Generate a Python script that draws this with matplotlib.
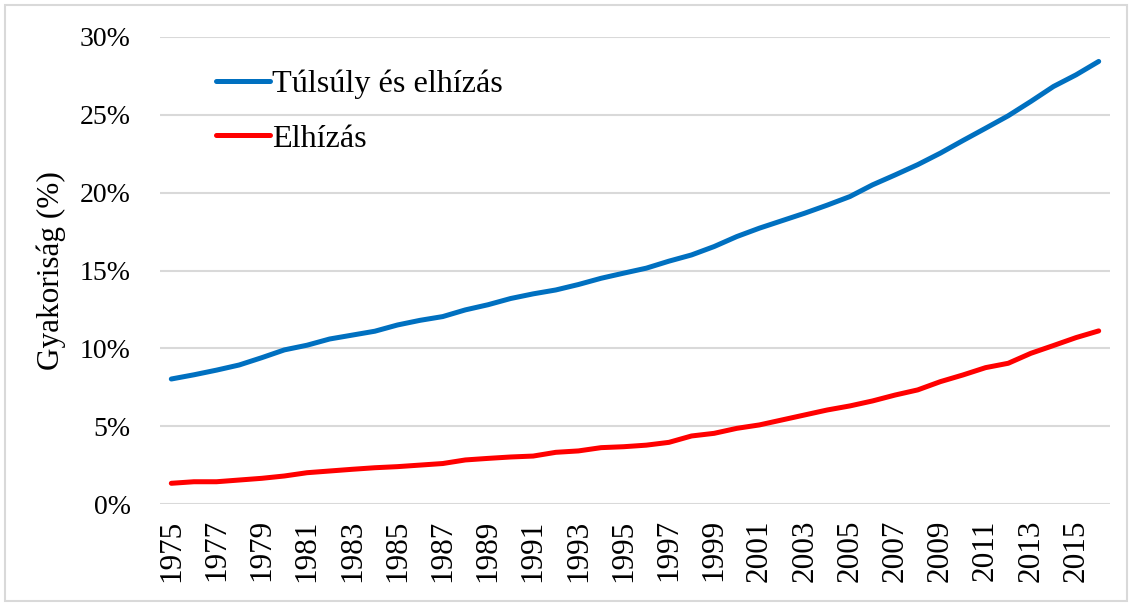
import matplotlib
matplotlib.use("Agg")
import matplotlib.pyplot as plt
from matplotlib.patches import Rectangle
from matplotlib.ticker import FuncFormatter

years = list(range(1975, 2017))
overweight = [8.03, 8.3, 8.6, 8.93, 9.4, 9.9, 10.2, 10.6, 10.85, 11.1, 11.5,
              11.8, 12.04, 12.47, 12.8, 13.2, 13.5, 13.75, 14.1, 14.5, 14.83,
              15.15, 15.6, 16.0, 16.54, 17.18, 17.72, 18.2, 18.68, 19.2, 19.75,
              20.5, 21.14, 21.8, 22.54, 23.35, 24.14, 24.94, 25.86, 26.82, 27.57, 28.43]
obesity = [1.33, 1.43, 1.43, 1.54, 1.65, 1.8, 2.01, 2.12, 2.23, 2.33, 2.4,
           2.5, 2.6, 2.83, 2.93, 3.02, 3.08, 3.32, 3.41, 3.62, 3.68,
           3.78, 3.96, 4.37, 4.54, 4.86, 5.08, 5.4, 5.72, 6.04, 6.3,
           6.62, 7.0, 7.33, 7.86, 8.29, 8.76, 9.04, 9.68, 10.18, 10.69, 11.12]
series_labels = ["Túlsúly és elhízás", "Elhízás"]
series_colors = ["#0070C0", "#FF0000"]
tick_years = list(range(1975, 2016, 2))
y_ticks = [0, 5, 10, 15, 20, 25, 30]
y_label = "Gyakoriság (%)"

plt.rcParams['font.family'] = ['Liberation Serif', 'DejaVu Serif']

W, H = 1132, 606
fig = plt.figure(figsize=(W / 100, H / 100), dpi=100)
ax = fig.add_axes([160 / W, 1 - 504 / H, (1110 - 160) / W, (504 - 37) / H])

for vals, lab, col in zip([overweight, obesity], series_labels, series_colors):
    ax.plot(years, vals, color=col, lw=3.6, label=lab, solid_capstyle='round',
            solid_joinstyle='round', zorder=3)

ax.set_xlim(1974.5, 2016.5)
ax.set_ylim(0, 30)
ax.set_yticks(y_ticks)
ax.yaxis.set_major_formatter(FuncFormatter(lambda v, p: f"{int(v)}%"))
ax.set_xticks(tick_years)
ax.set_xticklabels([str(y) for y in tick_years], rotation=90, fontsize=22.5)
ax.tick_params(axis='y', labelsize=20, length=0, pad=21)
ax.tick_params(axis='x', length=0, pad=11)
ax.grid(axis='y', color='#D9D9D9', lw=1.5, zorder=0)
for s in ax.spines.values():
    s.set_visible(False)
ax.set_ylabel(y_label, fontsize=22.5, labelpad=10)

leg = ax.legend(loc='upper left', bbox_to_anchor=(0.045, 0.958), frameon=False,
                fontsize=23.2, handlelength=1.7, handletextpad=0.06, labelspacing=0.78,
                borderaxespad=0)

fig.patches.append(Rectangle((5 / W, 5 / H), (W - 10) / W, (H - 10) / H,
                             transform=fig.transFigure, fill=False,
                             edgecolor='#D9D9D9', lw=1.5))

fig.savefig("out.png", dpi=100)
